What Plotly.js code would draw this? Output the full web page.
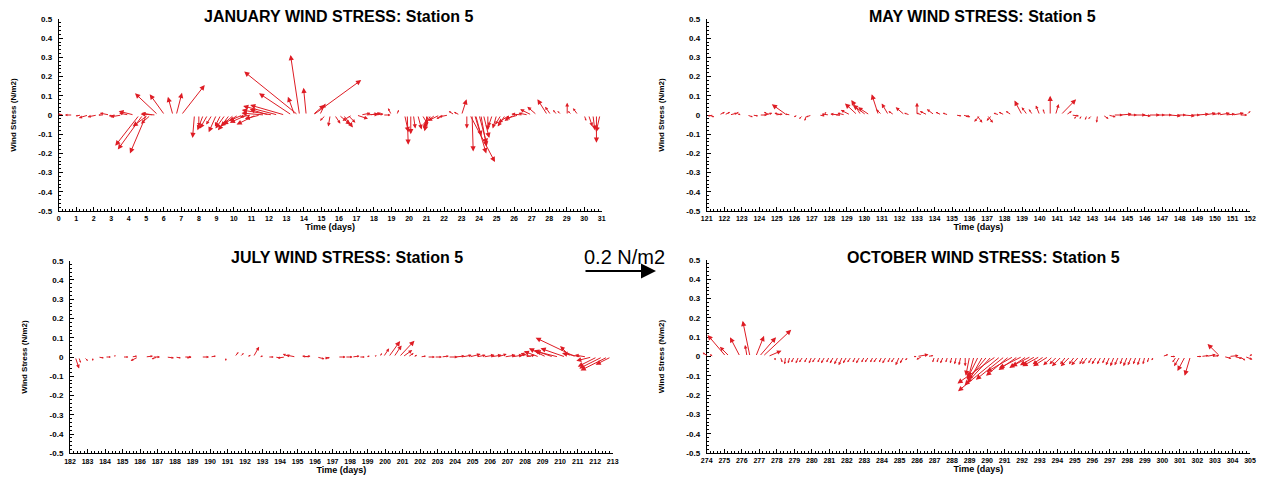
<!DOCTYPE html>
<html>
<head>
<meta charset="utf-8">
<script src="https://cdn.plot.ly/plotly-3.0.1.min.js"></script>
<style>html,body{margin:0;padding:0;background:#fff;}#chart{width:1264px;height:477px;}</style>
</head>
<body>
<div id="chart"></div>
<script>
// ---- Panel titles and axis labels ----
const panelTitles = ["JANUARY WIND STRESS: Station 5", "MAY WIND STRESS: Station 5", "JULY WIND STRESS: Station 5", "OCTOBER WIND STRESS: Station 5"];
const xTitle = "Time (days)";
const yTitle = "Wind Stress (N/m2)";
const scaleLabel = "0.2 N/m2";
const xRanges = [[0, 31], [121, 152], [182, 213], [274, 305]];
const yTickVals = [-0.5, -0.4, -0.3, -0.2, -0.1, 0, 0.1, 0.2, 0.3, 0.4, 0.5];
const yTickText = ["-0.5", "-0.4", "-0.3", "-0.2", "-0.1", "0", "0.1", "0.2", "0.3", "0.4", "0.5"];

// ---- January: time (days), eastward (u) and northward (v) wind stress, N/m2 ----
const janT = [0.3,0.8,1.3,1.7,2.2,2.6,2.9,3.3,3.6,4.0,4.3,4.6,4.8,5.0,5.1,5.25,5.4,5.55,5.67,6.05,6.52,6.71,7.0,
  7.75,8.0,8.25,8.5,8.75,9.0,9.25,9.5,9.75,10.0,10.25,10.5,10.75,11.0,11.25,11.5,11.75,12.0,12.2,12.5,12.9,13.3,13.47,13.66,13.75,14.13,14.5,14.53,14.9,
  15.25,15.5,15.75,16.0,16.25,16.5,16.75,17.0,17.25,17.5,17.75,18.0,18.5,19.0,19.3,19.75,19.9,20.1,20.25,20.5,20.75,21.0,21.1,21.25,21.5,21.75,22.0,22.25,22.6,22.9,23.0,
  23.3,23.48,23.6,23.75,23.8,24.0,24.1,24.25,24.5,24.75,25.0,25.25,25.5,25.75,26.0,26.25,26.5,26.8,27.0,27.3,27.9,28.1,28.45,28.7,29.03,29.3,29.65,30.0,30.25,30.5,30.7,30.9];
const janU = [-0.03,-0.04,-0.03,-0.05,-0.05,-0.03,-0.05,-0.04,-0.06,-0.05,-0.08,-0.125,-0.13,-0.085,-0.08,-0.05,-0.06,-0.08,-0.12,-0.078,-0.026,0.03,0.122,
  -0.01,0.0,-0.03,-0.04,-0.03,-0.04,-0.03,-0.05,-0.06,-0.07,-0.08,-0.07,-0.09,-0.06,-0.1,-0.08,-0.12,-0.1,-0.16,-0.18,-0.18,-0.17,-0.035,-0.28,-0.047,-0.014,0.06,0.25,0.03,
  -0.03,-0.01,0.03,0.06,0.05,0.04,-0.05,0.06,0.05,0.07,0.06,0.05,0.04,-0.018,0.01,0.02,0.005,0.0,0.01,0.02,0.03,0.0,-0.02,-0.04,-0.06,-0.06,-0.04,-0.05,-0.03,-0.03,0.026,
  0.0,0.13,0.006,0.06,0.03,0.04,0.03,0.03,0.0,-0.02,-0.02,-0.03,-0.04,-0.06,-0.05,-0.07,-0.06,-0.05,-0.06,-0.05,-0.052,-0.03,-0.02,-0.02,0.0,-0.02,-0.026,0.01,0.02,0.01,0.0,-0.02];
const janV = [0.005,0.0,-0.005,-0.015,-0.01,0.0,0.01,-0.005,-0.01,0.01,0.02,-0.16,-0.18,-0.2,-0.06,-0.045,0.01,0.005,0.113,0.108,0.095,0.116,0.156,
  -0.12,-0.06,-0.08,-0.07,-0.05,-0.09,-0.06,-0.07,-0.08,-0.06,-0.05,-0.03,-0.04,-0.01,-0.05,-0.02,0.01,0.03,0.026,0.047,0.052,0.113,0.095,0.226,0.3125,0.142,0.052,0.182,0.06,
  -0.03,-0.06,-0.045,-0.05,-0.065,-0.04,-0.03,-0.02,0.01,0.005,0.01,0.005,0.0,0.035,0.026,-0.09,-0.155,-0.1,-0.07,-0.075,-0.05,-0.06,-0.085,-0.07,-0.045,-0.03,-0.02,-0.01,0.02,0.015,0.082,
  -0.07,-0.245,-0.19,-0.2,-0.11,-0.15,-0.165,-0.12,-0.08,-0.06,-0.07,-0.05,-0.06,-0.04,-0.03,-0.02,0.005,0.01,0.03,0.043,0.082,0.043,0.026,0.02,0.064,0.02,0.035,-0.03,-0.06,-0.08,-0.145,-0.09];

// ---- May ----
const mayT = [121.1,121.4,121.7,122.0,122.3,122.6,123.0,123.3,123.6,124.0,124.3,124.6,124.9,125.3,125.57,125.8,126.2,126.5,126.7,127.0,127.4,127.7,128.0,128.3,128.6,128.9,
  129.2,129.6,129.8,130.1,130.3,130.8,131.0,131.37,131.7,132.3,132.6,133.0,133.3,133.6,134.0,134.4,134.8,135.2,135.6,136.0,136.4,136.6,137.0,137.3,137.7,138.0,138.4,
  139.0,139.3,139.6,140.0,140.3,140.6,140.9,141.2,141.5,141.8,142.1,142.4,142.7,143.0,143.3,143.6,143.9,144.2,144.6,145.0,145.4,145.8,146.2,146.6,147.0,147.4,147.8,
  148.2,148.6,149.0,149.4,149.8,150.2,150.6,151.0,151.4,151.8];
const mayU = [0.03,-0.03,0.03,0.03,0.04,0.02,-0.02,0.03,0.03,0.04,0.04,-0.03,0.04,-0.04,-0.078,-0.03,-0.02,-0.02,-0.01,-0.03,0.03,0.01,-0.04,0.03,-0.05,-0.04,
  -0.05,-0.065,-0.05,-0.07,-0.06,-0.035,-0.03,-0.035,-0.03,-0.047,-0.03,0.0,-0.03,-0.04,-0.04,-0.03,-0.03,0.03,0.04,-0.02,0.03,-0.03,0.03,-0.03,-0.03,-0.03,-0.03,
  -0.04,-0.03,-0.02,-0.02,-0.01,0.0,0.017,0.08,0.03,0.04,-0.01,-0.01,-0.01,-0.02,-0.005,0.03,0.04,0.05,0.06,0.05,0.06,0.05,0.06,0.05,0.05,0.06,0.05,
  0.06,0.05,0.06,0.06,0.05,0.06,0.05,0.06,0.04,0.02];
const mayV = [-0.01,-0.005,0.015,0.015,0.01,0.015,0.005,-0.01,-0.005,0.0,0.01,0.015,0.005,0.01,0.056,0.005,-0.01,-0.02,-0.03,-0.01,-0.005,0.015,0.005,0.0,0.005,0.01,
  0.026,0.06,0.078,0.052,0.04,0.108,0.03,0.06,0.02,0.04,0.01,0.064,0.01,0.02,0.03,0.015,0.01,-0.005,-0.01,-0.01,-0.04,-0.035,-0.04,-0.03,0.01,0.015,0.02,
  0.075,0.04,0.03,0.05,0.03,0.1,0.057,0.082,0.02,-0.005,-0.02,-0.02,-0.025,-0.02,-0.04,-0.02,-0.01,0.0,0.005,0.0,0.0,-0.005,0.0,0.0,0.0,-0.005,0.0,
  -0.005,0.0,0.005,0.01,0.01,0.01,0.005,0.01,0.0,0.02];

// ---- July ----
const julT = [182.3,182.5,182.8,183.3,183.6,184.0,184.5,185.0,185.5,185.9,186.3,186.7,187.0,187.5,188.0,188.5,189.0,189.5,190.0,190.4,190.9,191.4,191.7,192.1,192.47,192.8,
  193.3,193.7,194.3,194.6,194.9,195.3,195.7,196.1,196.5,196.9,197.3,197.7,198.1,198.5,198.9,199.4,199.7,199.9,200.2,200.5,200.8,201.0,201.3,201.6,202.0,202.4,202.8,
  203.2,203.6,204.0,204.4,204.8,205.2,205.6,206.0,206.4,206.8,207.2,207.6,208.0,208.4,208.8,209.2,209.6,209.9,210.3,210.6,210.9,211.2,211.5,211.8,212.1,212.4,212.7,212.9];
const julU = [0.02,0.01,0.02,0.0,0.03,0.03,0.01,0.03,0.03,-0.04,0.04,0.04,-0.03,0.04,0.03,0.04,-0.03,0.04,0.03,0.0,0.0,0.02,0.02,0.02,0.03,0.02,
  0.03,0.03,-0.04,-0.04,-0.05,0.04,-0.04,0.04,0.03,-0.03,0.04,0.04,0.04,0.03,0.02,0.01,0.01,0.03,0.06,0.04,0.08,0.05,0.03,0.02,0.03,0.04,0.04,
  0.04,0.05,0.05,0.05,0.06,0.05,0.06,0.06,0.05,0.06,0.06,0.04,0.05,-0.06,-0.08,-0.09,-0.1,-0.12,-0.13,-0.055,-0.21,-0.1,-0.06,-0.08,-0.1,-0.12,-0.14,-0.08];
const julV = [-0.06,-0.03,-0.02,-0.02,-0.005,0.0,0.01,0.0,0.005,-0.02,0.005,0.0,-0.01,-0.005,-0.005,0.0,-0.005,0.0,0.005,0.01,-0.02,0.025,0.02,0.01,0.053,0.005,
  0.0,-0.005,-0.005,0.015,0.01,0.005,0.005,-0.01,-0.005,-0.01,0.0,0.0,0.005,0.0,0.005,0.01,0.02,0.045,0.083,0.06,0.085,0.036,0.02,0.01,0.005,0.0,0.0,
  0.005,0.0,0.005,0.01,0.015,0.01,0.01,0.01,0.015,0.01,0.01,0.015,0.01,0.02,0.03,0.045,0.035,0.03,0.045,0.057,0.1,0.02,0.01,-0.02,-0.05,-0.06,-0.07,-0.04];

// ---- October ----
const octT = [274.1,274.4,275.1,275.3,275.9,276.3,276.47,276.8,277.0,277.2,277.5,277.9,278.2,278.5,278.75,
  279.0,279.25,279.5,279.75,280.0,280.25,280.5,280.75,281.0,281.25,281.5,281.75,282.0,282.25,282.5,282.75,283.0,283.25,283.5,283.75,
  284.0,284.25,284.5,284.75,285.0,285.25,285.5,285.75,286.0,286.3,286.6,287.0,287.25,287.5,287.75,288.0,288.25,288.5,288.75,
  289.0,289.25,289.5,289.75,290.0,290.25,290.5,290.75,291.0,291.25,291.5,291.75,292.0,292.25,292.5,292.75,293.0,293.25,293.5,293.75,
  294.0,294.25,294.5,294.75,295.0,295.25,295.5,295.75,296.0,296.25,296.5,296.75,297.0,297.25,297.5,297.75,298.0,298.25,298.5,298.75,
  299.0,299.25,299.5,299.75,300.0,300.4,300.8,301.0,301.3,301.6,301.9,302.2,302.5,302.8,303.3,303.5,303.8,304.1,304.4,304.7,304.9];
const octU = [-0.03,-0.02,-0.096,-0.05,-0.052,-0.01,-0.038,0.043,0.087,0.148,0.07,0.0,0.01,-0.005,-0.01,
  -0.015,-0.015,-0.02,-0.015,-0.015,-0.02,-0.015,-0.02,-0.015,-0.02,-0.02,-0.02,-0.02,-0.02,-0.015,-0.02,-0.015,-0.02,-0.015,-0.02,
  -0.015,-0.02,-0.015,-0.02,-0.02,-0.02,-0.015,0.02,0.06,-0.03,0.03,-0.01,-0.01,-0.015,-0.01,-0.01,-0.01,-0.01,0.0,
  -0.02,-0.03,-0.06,-0.08,-0.1,-0.14,-0.2,-0.22,-0.15,-0.12,-0.14,-0.1,-0.12,-0.09,-0.1,-0.08,-0.09,-0.06,-0.08,-0.05,
  -0.04,-0.05,-0.03,-0.05,-0.03,-0.04,-0.02,-0.03,-0.02,-0.025,-0.02,-0.015,-0.02,-0.02,-0.02,-0.015,-0.02,-0.02,-0.015,-0.015,
  -0.01,-0.01,-0.01,0.0,0.03,0.03,-0.02,-0.03,-0.04,-0.03,0.03,0.04,0.05,0.04,-0.066,0.04,0.05,0.04,0.03,0.04,0.02];
const octV = [0.02,0.01,0.112,0.05,0.1,0.06,0.185,0.107,0.1,0.138,0.03,-0.02,-0.03,-0.04,-0.035,
  -0.03,-0.035,-0.03,-0.03,-0.035,-0.03,-0.03,-0.035,-0.03,-0.035,-0.04,-0.045,-0.035,-0.03,-0.03,-0.035,-0.03,-0.03,-0.03,-0.03,
  -0.03,-0.035,-0.03,-0.03,-0.045,-0.035,-0.02,0.0,0.01,-0.015,0.005,-0.03,-0.03,-0.035,-0.03,-0.035,-0.04,-0.045,-0.05,
  -0.1,-0.11,-0.12,-0.14,-0.12,-0.15,-0.14,-0.18,-0.12,-0.1,-0.08,-0.07,-0.06,-0.06,-0.05,-0.045,-0.05,-0.04,-0.05,-0.045,
  -0.04,-0.05,-0.04,-0.05,-0.04,-0.045,-0.04,-0.04,-0.035,-0.04,-0.04,-0.035,-0.045,-0.05,-0.045,-0.04,-0.05,-0.045,-0.04,-0.045,
  -0.04,-0.03,-0.02,-0.01,0.01,0.0,-0.03,-0.05,-0.075,-0.1,0.0,0.005,0.01,0.005,0.065,-0.01,0.005,-0.01,-0.02,-0.015,0.01];

// ---- drawing ----
const RED = "rgb(222,28,36)";
const FONT = "Liberation Sans, Arial, sans-serif";
// days per N/m2 so a vector has the same on-screen scale horizontally and vertically
const K = 10.96;
const PX_PER_UNIT = 192;

const panels = [
  {T: janT, U: janU, V: janV, xa: "x", ya: "y"},
  {T: mayT, U: mayU, V: mayV, xa: "x2", ya: "y2"},
  {T: julT, U: julU, V: julV, xa: "x3", ya: "y3"},
  {T: octT, U: octU, V: octV, xa: "x4", ya: "y4"}
];

const traces = [];
const annotations = [];
panels.forEach(p => {
  traces.push({type: "scatter", mode: "markers", x: p.T, y: p.V, xaxis: p.xa, yaxis: p.ya,
    marker: {size: 1, opacity: 0}, hoverinfo: "skip", showlegend: false});
  for (let i = 0; i < p.T.length; i++) {
    const len = Math.hypot(p.U[i], p.V[i]) * PX_PER_UNIT;
    const hs = Math.min(1.05, Math.max(0.35, len / 16));
    annotations.push({
      xref: p.xa, yref: p.ya, axref: p.xa, ayref: p.ya,
      x: p.T[i] + p.U[i] * K, y: p.V[i], ax: p.T[i], ay: 0,
      text: "", showarrow: true, arrowhead: 2, arrowsize: hs, arrowwidth: 1,
      arrowcolor: RED, standoff: 0, startstandoff: 0
    });
  }
});

// titles
const W = 1264, H = 477;
const titleCenters = [[338, 16], [982, 16], [347, 257.5], [983, 257.5]];
panelTitles.forEach((t, i) => {
  annotations.push({xref: "paper", yref: "paper", x: titleCenters[i][0] / W, y: 1 - titleCenters[i][1] / H,
    xanchor: "center", yanchor: "middle", text: t, showarrow: false,
    font: {family: FONT, size: 16, weight: "bold", color: "black"}});
});
// scale vector
annotations.push({xref: "paper", yref: "paper", x: 624 / W, y: 1 - 257 / H, xanchor: "center", yanchor: "middle",
  text: scaleLabel, showarrow: false, font: {family: FONT, size: 20, color: "black"}});
annotations.push({xref: "paper", yref: "paper", x: 656 / W, y: 1 - 271 / H, ax: -72, ay: 0, text: "",
  showarrow: true, arrowhead: 2, arrowsize: 1.5, arrowwidth: 2, arrowcolor: "black", standoff: 0});

function xAxis(range, dom, anchor) {
  return {range: range, domain: dom, anchor: anchor, dtick: 1, tick0: 0, showline: true, linecolor: "black", linewidth: 1,
    ticks: "inside", ticklen: 4, tickcolor: "black", showgrid: false, zeroline: false, fixedrange: true,
    minor: {ticks: "inside", ticklen: 2, dtick: 0.2, tick0: 0, tickcolor: "black", showgrid: false},
    tickfont: {family: FONT, size: 7, weight: "bold", color: "black"}, ticklabelstandoff: 1,
    title: {text: xTitle, standoff: 2, font: {family: FONT, size: 9, weight: "bold", color: "black"}}};
}
function yAxis(dom, anchor) {
  return {range: [-0.5, 0.5], domain: dom, anchor: anchor, tickvals: yTickVals, ticktext: yTickText,
    showline: true, linecolor: "black", linewidth: 1, ticks: "inside", ticklen: 4, tickcolor: "black",
    showgrid: false, zeroline: false, fixedrange: true,
    minor: {ticks: "inside", ticklen: 2, dtick: 0.02, tick0: 0, tickcolor: "black", showgrid: false},
    tickfont: {family: FONT, size: 8, weight: "bold", color: "black"}, ticklabelstandoff: 4,
    title: {text: yTitle, standoff: 20, font: {family: FONT, size: 8, weight: "bold", color: "black"}}};
}

const layout = {
  width: W, height: H, margin: {l: 0, r: 0, t: 0, b: 0}, paper_bgcolor: "white", plot_bgcolor: "white",
  showlegend: false, annotations: annotations,
  xaxis: xAxis(xRanges[0], [58.7 / W, 601.7 / W], "y"),
  yaxis: yAxis([(H - 211) / H, (H - 19) / H], "x"),
  xaxis2: xAxis(xRanges[1], [706.7 / W, 1250 / W], "y2"),
  yaxis2: yAxis([(H - 211) / H, (H - 19) / H], "x2"),
  xaxis3: xAxis(xRanges[2], [70 / W, 612.7 / W], "y3"),
  yaxis3: yAxis([(H - 453.3) / H, (H - 260.7) / H], "x3"),
  xaxis4: xAxis(xRanges[3], [706.7 / W, 1250 / W], "y4"),
  yaxis4: yAxis([(H - 453) / H, (H - 260) / H], "x4")
};

Plotly.newPlot("chart", traces, layout, {staticPlot: true, displayModeBar: false});
</script>
</body>
</html>
